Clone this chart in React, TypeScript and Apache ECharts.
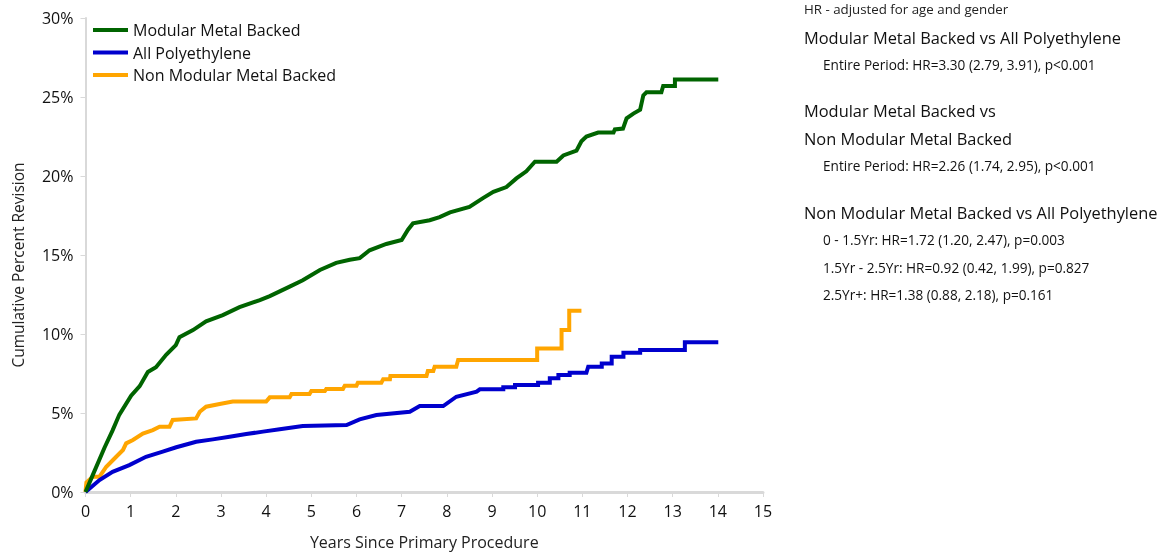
import React, { useEffect, useRef } from "react";
import * as echarts from "echarts";

const seriesNames = ["Modular Metal Backed", "All Polyethylene", "Non Modular Metal Backed"];
const seriesColors = ["#006400", "#0000CD", "#FFA500"];

// [years, cumulative percent revision]
const modularMetalBacked: [number, number][] = [
  [0, 0], [0.16, 1.07], [0.42, 2.8], [0.6, 3.9], [0.75, 4.9], [1.01, 6.1], [1.2, 6.7],
  [1.38, 7.6], [1.56, 7.9], [1.79, 8.7], [2.0, 9.3], [2.08, 9.8], [2.38, 10.25],
  [2.67, 10.8], [3.04, 11.2], [3.41, 11.7], [3.86, 12.15], [4.08, 12.4], [4.3, 12.7],
  [4.52, 13.0], [4.81, 13.4], [5.19, 14.05], [5.55, 14.5], [5.85, 14.7], [6.07, 14.8],
  [6.29, 15.3], [6.66, 15.7], [7.0, 15.95], [7.14, 16.6], [7.25, 17.0], [7.62, 17.2],
  [7.84, 17.4], [8.07, 17.7], [8.5, 18.05], [8.8, 18.6], [9.03, 19.0], [9.32, 19.3],
  [9.54, 19.85], [9.76, 20.3], [9.95, 20.9], [10.43, 20.9], [10.58, 21.3], [10.87, 21.6],
  [10.98, 22.2], [11.09, 22.5], [11.35, 22.75], [11.69, 22.75], [11.72, 22.95], [11.9, 23.0],
  [11.98, 23.65], [12.13, 23.95], [12.28, 24.2], [12.35, 25.1], [12.42, 25.3], [12.75, 25.3],
  [12.79, 25.7], [13.05, 25.7], [13.05, 26.1], [14.01, 26.1],
];

const allPolyethylene: [number, number][] = [
  [0, 0], [0.31, 0.76], [0.6, 1.28], [0.97, 1.7], [1.34, 2.23], [1.71, 2.55], [2.01, 2.83],
  [2.45, 3.18], [2.82, 3.33], [3.19, 3.5], [3.56, 3.67], [3.93, 3.82], [4.3, 3.97],
  [4.81, 4.18], [5.78, 4.24], [6.07, 4.6], [6.44, 4.87], [7.18, 5.08], [7.4, 5.44],
  [7.92, 5.44], [8.21, 6.03], [8.66, 6.35], [8.73, 6.5], [9.25, 6.5], [9.25, 6.63],
  [9.51, 6.63], [9.51, 6.77], [10.02, 6.77], [10.02, 6.92], [10.28, 6.92], [10.28, 7.2],
  [10.47, 7.2], [10.47, 7.4], [10.72, 7.4], [10.72, 7.55], [11.09, 7.55], [11.13, 7.93],
  [11.43, 7.93], [11.43, 8.14], [11.65, 8.14], [11.65, 8.56], [11.91, 8.56], [11.91, 8.82],
  [12.28, 8.82], [12.28, 8.99], [13.27, 8.99], [13.27, 9.47], [14.01, 9.47],
];

const nonModularMetalBacked: [number, number][] = [
  [0, 0], [0.02, 0.6], [0.16, 0.97], [0.31, 0.97], [0.46, 1.6], [0.68, 2.23], [0.83, 2.66],
  [0.9, 3.08], [1.05, 3.29], [1.27, 3.7], [1.49, 3.92], [1.64, 4.13], [1.86, 4.13],
  [1.93, 4.56], [2.45, 4.66], [2.53, 5.08], [2.67, 5.4], [2.97, 5.57], [3.26, 5.72],
  [4.0, 5.72], [4.08, 5.99], [4.52, 5.99], [4.56, 6.2], [4.96, 6.2], [5.0, 6.39],
  [5.3, 6.39], [5.33, 6.52], [5.7, 6.52], [5.74, 6.73], [6.0, 6.73], [6.03, 6.92],
  [6.55, 6.92], [6.59, 7.13], [6.74, 7.13], [6.75, 7.34], [7.55, 7.34], [7.58, 7.66],
  [7.7, 7.66], [7.73, 7.93], [8.21, 7.93], [8.25, 8.35], [10.0, 8.35], [10.0, 9.09],
  [10.54, 9.09], [10.54, 10.25], [10.71, 10.25], [10.71, 11.47], [10.98, 11.47],
];

const xTicks = { min: 0, max: 15, interval: 1 };
const yTicks = { min: 0, max: 30, interval: 5 };
const xTitle = "Years Since Primary Procedure";
const yTitle = "Cumulative Percent Revision";

const hrNote = "HR - adjusted for age and gender";
const hrBlocks: { heading: string[]; lines: string[] }[] = [
  { heading: ["Modular Metal Backed vs All Polyethylene"], lines: ["Entire Period: HR=3.30 (2.79, 3.91), p<0.001"] },
  { heading: ["Modular Metal Backed vs", "Non Modular Metal Backed"], lines: ["Entire Period: HR=2.26 (1.74, 2.95), p<0.001"] },
  {
    heading: ["Non Modular Metal Backed vs All Polyethylene"],
    lines: [
      "0 - 1.5Yr: HR=1.72 (1.20, 2.47), p=0.003",
      "1.5Yr - 2.5Yr: HR=0.92 (0.42, 1.99), p=0.827",
      "2.5Yr+: HR=1.38 (0.88, 2.18), p=0.161",
    ],
  },
];

const FONT = "'Open Sans', 'Noto Sans', sans-serif";

export default function App() {
  const ref = useRef<HTMLDivElement>(null);
  useEffect(() => {
    if (!ref.current) return;
    const chart = echarts.init(ref.current, undefined, { renderer: "svg" });

    const graphics: any[] = [];
    graphics.push({
      type: "text", x: 18, y: 265, rotation: Math.PI / 2,
      style: { text: yTitle, font: `15.5px ${FONT}`, fill: "#222", align: "center", verticalAlign: "middle" },
    });
    graphics.push({
      type: "text", x: 804, y: 9,
      style: { text: hrNote, font: `13.3px ${FONT}`, fill: "#222", verticalAlign: "middle" },
    });
    let y = 37;
    hrBlocks.forEach((b) => {
      b.heading.forEach((h) => {
        graphics.push({ type: "text", x: 804, y, style: { text: h, font: `16.4px ${FONT}`, fill: "#111", verticalAlign: "middle" } });
        y += 27.6;
      });
      b.lines.forEach((l) => {
        graphics.push({ type: "text", x: 823, y, style: { text: l, font: `13.6px ${FONT}`, fill: "#111", verticalAlign: "middle" } });
        y += 27.6;
      });
      y += 18.5;
    });

    const datasets = [modularMetalBacked, allPolyethylene, nonModularMetalBacked];
    chart.setOption({
      animation: false,
      grid: { left: 85.5, right: 402, top: 18, bottom: 64, containLabel: false, outerBoundsMode: "none" },
      legend: {
        orient: "vertical",
        left: 88,
        top: 17,
        itemWidth: 35,
        itemHeight: 4,
        itemGap: 6.5,
        icon: "rect",
        textStyle: { fontSize: 16, fontFamily: FONT, color: "#111" },
        data: seriesNames,
      },
      xAxis: {
        type: "value",
        ...xTicks,
        name: xTitle,
        nameLocation: "middle",
        nameGap: 42,
        nameTextStyle: { fontSize: 16, fontFamily: FONT, color: "#222" },
        axisLine: { show: true, lineStyle: { color: "#d9d9d9", width: 3 } },
        axisTick: { show: true, length: 5, lineStyle: { color: "#d9d9d9", width: 1 } },
        axisLabel: { fontSize: 16, fontFamily: FONT, color: "#111", margin: 11 },
        splitLine: { show: false },
      },
      yAxis: {
        type: "value",
        ...yTicks,
        axisLine: { show: true, lineStyle: { color: "#d9d9d9", width: 2 } },
        axisTick: { show: true, length: 5, lineStyle: { color: "#d9d9d9", width: 1 } },
        axisLabel: { fontSize: 16, fontFamily: FONT, color: "#111", formatter: "{value}%", margin: 12 },
        splitLine: { show: false },
      },
      series: datasets.map((d, i) => ({
        name: seriesNames[i],
        type: "line",
        data: d,
        showSymbol: false,
        symbol: "none",
        lineStyle: { color: seriesColors[i], width: 4, join: "miter" },
        itemStyle: { color: seriesColors[i] },
        z: 3 - i,
      })),
      graphic: graphics,
    });
    return () => chart.dispose();
  }, []);
  return <div ref={ref} style={{ position: "fixed", left: 0, top: 0, width: 1165, height: 556 }} />;
}
